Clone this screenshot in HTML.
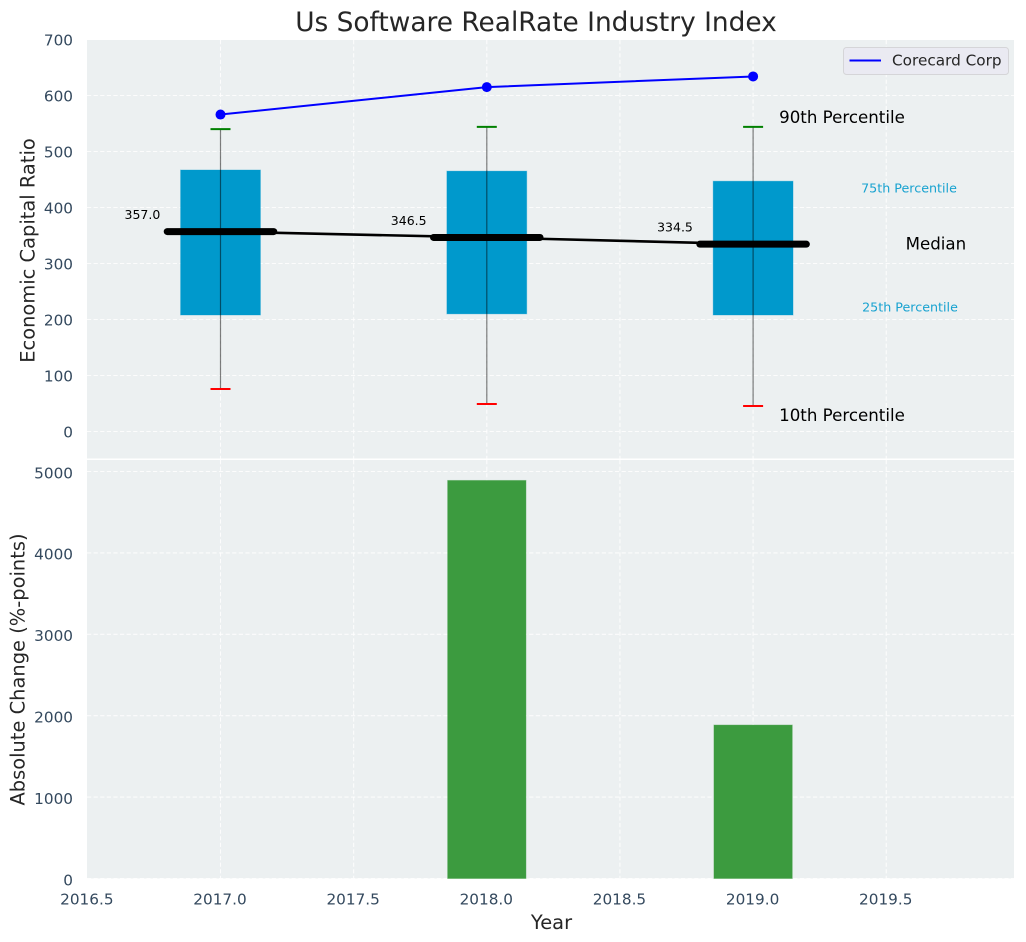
<!DOCTYPE html>
<html>
<head>
<meta charset="utf-8">
<title>Us Software RealRate Industry Index</title>
<style>
html,body{margin:0;padding:0;background:#fff;}
svg{display:block;font-family:"DejaVu Sans","Liberation Sans",sans-serif;}
</style>
</head>
<body>
<svg id="chart" xmlns="http://www.w3.org/2000/svg" width="1026" height="942" viewBox="0 0 1026 942"></svg>
<script>
const years = [2017, 2018, 2019];
const p90 = [540, 544, 544];
const p75 = [467, 465, 447];
const p50 = [357, 346.5, 334.5];
const p25 = [208, 210, 208];
const p10 = [76, 49, 45.5];
const companySeries = [566, 615, 634];
const absoluteChange = [0, 4890, 1885];
const xTicks = [2016.5, 2017, 2017.5, 2018, 2018.5, 2019, 2019.5];
const topTicks = [0, 100, 200, 300, 400, 500, 600, 700];
const bottomTicks = [0, 1000, 2000, 3000, 4000, 5000];

const svgNS = 'http://www.w3.org/2000/svg';
const root = document.getElementById('chart');
const L = 87, R = 1014, T1 = 40, B1 = 458.5, T2 = 460, B2 = 878.5;
function X(v){ return 220.5 + (v - 2017) * 266.3; }
function Y1(v){ return 431.5 - v * 0.56; }
function Y2(v){ return 878.5 - v * 0.0814; }
function mk(tag, props, text){
  const e = document.createElementNS(svgNS, tag);
  for (const k in props) e.setAttribute(k, props[k]);
  if (text !== undefined) e.textContent = text;
  root.appendChild(e);
  return e;
}
let el;

el = mk('rect', {x:L, y:T1, width:R-L, height:B1-T1, fill:'#ecf0f1'});


el = mk('rect', {x:L, y:T2, width:R-L, height:B2-T2, fill:'#ecf0f1'});



const gridStyle = {stroke:'#ffffff', 'stroke-width':1.1, 'stroke-dasharray':'4.2 2.4', opacity:0.85};
xTicks.forEach(t => {
  if (t === 2016.5) return;
  el = mk('line', Object.assign({x1:X(t), x2:X(t), y1:T1, y2:B1}, gridStyle));
  
  
  el = mk('line', Object.assign({x1:X(t), x2:X(t), y1:T2, y2:B2}, gridStyle));
  
  
});
topTicks.forEach(t => {
  el = mk('line', Object.assign({x1:L, x2:R, y1:Y1(t), y2:Y1(t)}, gridStyle));
  
  
  el = mk('text', {x:73, y:Y1(t)+5.8, 'text-anchor':'end', 'font-size':15.28, fill:'#34495e'}, String(t));
  
  
});
bottomTicks.forEach(t => {
  el = mk('line', Object.assign({x1:L, x2:R, y1:Y2(t), y2:Y2(t)}, gridStyle));
  
  
  el = mk('text', {x:73, y:Y2(t)+6.8, 'text-anchor':'end', 'font-size':15.28, fill:'#34495e'}, String(t));
  
  
});
xTicks.forEach(t => {
  el = mk('text', {x:X(t)-0.5, y:904.5, 'text-anchor':'middle', 'font-size':15.28, fill:'#34495e'}, t.toFixed(1));
  
  
});

/* percentile boxes */
years.forEach((yr, i) => {
  el = mk('rect', {x:X(yr-0.15), y:Y1(p75[i]), width:X(yr+0.15)-X(yr-0.15), height:Y1(p25[i])-Y1(p75[i]), fill:'#0099cc', stroke:'#0099cc', 'stroke-opacity':0.3, 'stroke-width':1});
  
  
});

/* median connecting line */
el = mk('polyline', {points:years.map((yr,i)=>X(yr)+','+Y1(p50[i])).join(' '), fill:'none', stroke:'#000', 'stroke-width':2.6});



years.forEach((yr, i) => {
  el = mk('line', {x1:X(yr), x2:X(yr), y1:Y1(p90[i]), y2:Y1(p10[i]), stroke:'#000', 'stroke-opacity':0.5, 'stroke-width':1.2});
  
  
  el = mk('line', {x1:X(yr)-10, x2:X(yr)+10, y1:Y1(p90[i]), y2:Y1(p90[i]), stroke:'#008000', 'stroke-width':2});
  
  
  el = mk('line', {x1:X(yr)-10, x2:X(yr)+10, y1:Y1(p10[i]), y2:Y1(p10[i]), stroke:'#ff0000', 'stroke-width':2});
  
  
  el = mk('line', {x1:X(yr-0.2), x2:X(yr+0.2), y1:Y1(p50[i]), y2:Y1(p50[i]), stroke:'#000', 'stroke-width':7, 'stroke-linecap':'round'});
  
  
  el = mk('text', {x:X(yr)-96, y:Y1(p50[i])-12.5, 'font-size':12.5, fill:'#000'}, p50[i].toFixed(1));
  
  
});

/* company line */
el = mk('polyline', {points:years.map((yr,i)=>X(yr)+','+Y1(companySeries[i])).join(' '), fill:'none', stroke:'#0000ff', 'stroke-width':2});


years.forEach((yr, i) => {
  el = mk('circle', {cx:X(yr), cy:Y1(companySeries[i]), r:5, fill:'#0000ff'});
  
  
});

/* percentile annotations, anchored to the last category */
const last = years.length - 1;
const lx = X(years[last]);
el = mk('text', {x:lx+26, y:Y1(p90[last])-4, 'font-size':16.67, fill:'#000'}, '90th Percentile');


el = mk('text', {x:lx+26, y:Y1(p10[last])+15, 'font-size':16.67, fill:'#000'}, '10th Percentile');


el = mk('text', {x:lx+108, y:Y1(p75[last])+11.5, 'font-size':12.7, fill:'#0099cc', 'fill-opacity':0.9}, '75th Percentile');


el = mk('text', {x:lx+109, y:Y1(p25[last])-3.5, 'font-size':12.7, fill:'#0099cc', 'fill-opacity':0.9}, '25th Percentile');


el = mk('text', {x:lx+152.5, y:Y1(p50[last])+5.5, 'font-size':16.67, fill:'#000'}, 'Median');



/* bottom bars */
years.forEach((yr, i) => {
  el = mk('rect', {x:X(yr-0.147), y:Y2(absoluteChange[i]), width:X(yr+0.147)-X(yr-0.147), height:Y2(0)-Y2(absoluteChange[i]), fill:'#3c9b3f', stroke:'#3c9b3f', 'stroke-opacity':0.4, 'stroke-width':1});
  
  
});

/* legend */
el = mk('rect', {x:843.5, y:47.5, width:165, height:27, rx:3, fill:'#eaeaf2', stroke:'#d5d5d8', 'stroke-width':1});


el = mk('line', {x1:849.5, x2:881, y1:60.5, y2:60.5, stroke:'#0000ff', 'stroke-width':2});


el = mk('text', {x:892, y:65.5, 'font-size':15.28, fill:'#262626'}, 'Corecard Corp');



/* titles */
el = mk('text', {x:536, y:31, 'text-anchor':'middle', 'font-size':26.4, fill:'#262626'}, 'Us Software RealRate Industry Index');


el = mk('text', {x:551.5, y:929, 'text-anchor':'middle', 'font-size':19.44, fill:'#262626'}, 'Year');


el = mk('text', {transform:'translate(34.5,250.5) rotate(-90)', 'text-anchor':'middle', 'font-size':19.44, fill:'#262626'}, 'Economic Capital Ratio');


el = mk('text', {transform:'translate(24.5,669.5) rotate(-90)', 'text-anchor':'middle', 'font-size':19.44, fill:'#262626'}, 'Absolute Change (%-points)');


</script>
</body>
</html>
